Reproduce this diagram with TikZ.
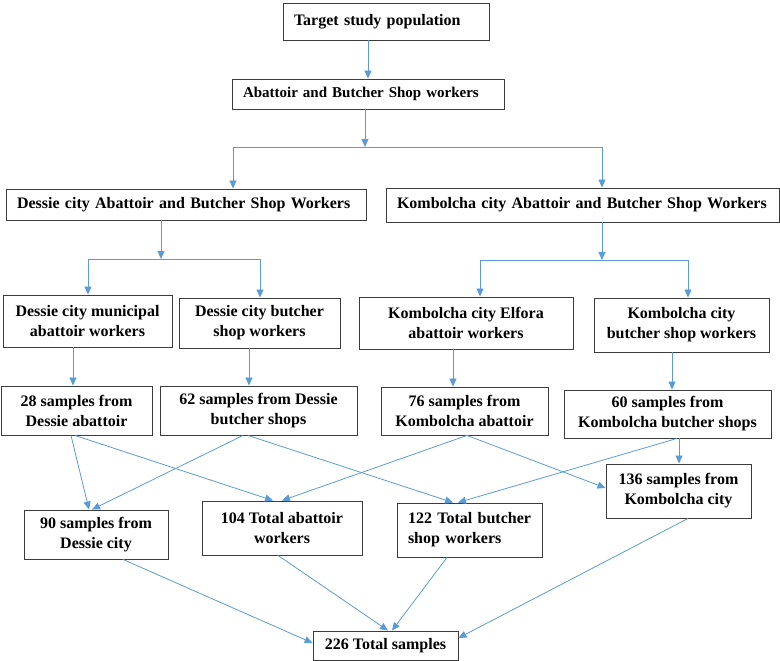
\documentclass[tikz,border=0pt]{standalone}
\usepackage{fontspec}
\setmainfont{Liberation Serif}
\usetikzlibrary{arrows.meta}
\definecolor{lineBlue}{RGB}{91,155,213}
\definecolor{boxGray}{RGB}{60,60,60}

\begin{document}
\begin{tikzpicture}
[x=1pt,y=-1pt,
  boxDecorate/.style={draw=boxGray,line width=0.9pt,inner sep=0pt,align=center,%
    font=\fontsize{16}{20}\selectfont\bfseries},%
  leftDecorate/.style={boxDecorate,align=left,inner xsep=11pt},%
  lineDecorate/.style={draw=lineBlue,line width=0.8pt},%
  arrowDecorate/.style={lineDecorate,-{Triangle[length=8pt,width=7pt]}}]
\useasboundingbox (0,0) rectangle (780,661);
%% boxes, text set to the left
\foreach \nodename/\x/\y/\tw/\h/\fs/\boxtext in {
  target/386/21.5/184/37/16/{Target study population},
  popu/368/94/250/30/15/{Abattoir and Butcher Shop workers},
  dessie/186/204.5/338/31/16/{Dessie city Abattoir and Butcher Shop Workers},
  kombo/582.5/205/371/34/16/{Kombolcha city Abattoir and Butcher Shop Workers},
  t122/469.5/530/123/54/16/{122 Total butcher\\shop workers}}
{
  \node (\nodename) at (\x,\y) [leftDecorate,text width=\tw pt,minimum height=\h pt,
    font=\fontsize{\fs}{20}\selectfont\bfseries] {\boxtext};
}
%% boxes, text centred
\foreach \nodename/\x/\y/\w/\h/\boxtext in {
  dmun/87.5/321/169/52/{Dessie city municipal\\abattoir workers},
  dbut/259.5/323/161/50/{Dessie city butcher\\shop workers},
  kelf/466/323/214/52/{Kombolcha city Elfora\\abattoir workers},
  kbut/681.5/325/175/54/{Kombolcha city\\butcher shop workers},
  s28/76.5/410.5/151/49/{28 samples from\\Dessie abattoir},
  s62/258.5/410.5/197/49/{62 samples from Dessie\\butcher shops},
  s76/464.5/411/167/48/{76 samples from\\Kombolcha abattoir},
  s60/667.5/414/207/48/{60 samples from\\Kombolcha butcher shops},
  s90/96/534.5/144/49/{90 samples from\\Dessie city},
  t104/282/528/160/54/{104 Total abattoir\\workers},
  s136/678.5/491/145/54/{136 samples from\\Kombolcha city},
  total/385.5/645.5/145/29/{226 Total samples}}
{
  \node (\nodename) at (\x,\y) [boxDecorate,minimum width=\w pt,minimum height=\h pt] {\boxtext};
}
%% branching connectors
\foreach \parent/\jx/\jy/\lx/\rx/\leftchild/\rightchild in {
  popu/365/147/233/602/dessie/kombo,
  dessie/161/259/88/260/dmun/dbut,
  kombo/602/260/480/688/kelf/kbut}
{
  \coordinate (join) at (\jx,\jy);
  \coordinate (joinL) at (\lx,\jy);
  \coordinate (joinR) at (\rx,\jy);
  \draw[arrowDecorate] (\parent.south -| join) -- (join);
  \draw[lineDecorate] (joinL) -- (joinR);
  \draw[arrowDecorate] (joinL) -- (joinL |- \leftchild.north);
  \draw[arrowDecorate] (joinR) -- (joinR |- \rightchild.north);
}
\draw[arrowDecorate] (target.south -| popu.north) -- (popu.north);
%% straight connectors
\foreach \startnode/\sx/\endnode in {
  dmun/-14.5/s28, dbut/-10.5/s62, kelf/-13/s76, kbut/-9.5/s60}
{
  \coordinate (foot) at ([xshift=\sx pt]\startnode.south);
  \draw[arrowDecorate] (foot) -- (foot |- \endnode.north);
}
%% slanted connectors
\foreach \startnode/\sx/\endnode/\ex/\ey in {
  s28.south/-5.5/s90.north/-7/0, s28.south/-1.5/t104.north/-9/0,
  s62.south/-15.5/s90.north/-4/0, s62.south/-10.5/t122.north/-16.5/0,
  s76.south/2.5/t104.north/0/0, s76.south/2.5/s136.west/0/3,
  s60.south/9.5/t122.north/-11.5/0, s60.south/11.5/s136.north/0.5/0,
  s90.south/27/total.west/0/2.5, t104.south/-4/total.north/2.5/0,
  t122.south/-22.5/total.north/6.5/0, s136.south/9.5/total.east/0/7.5}
{
  \draw[arrowDecorate] ([xshift=\sx pt]\startnode) -- ([xshift=\ex pt,yshift=\ey pt]\endnode);
}
\end{tikzpicture}
\end{document}
